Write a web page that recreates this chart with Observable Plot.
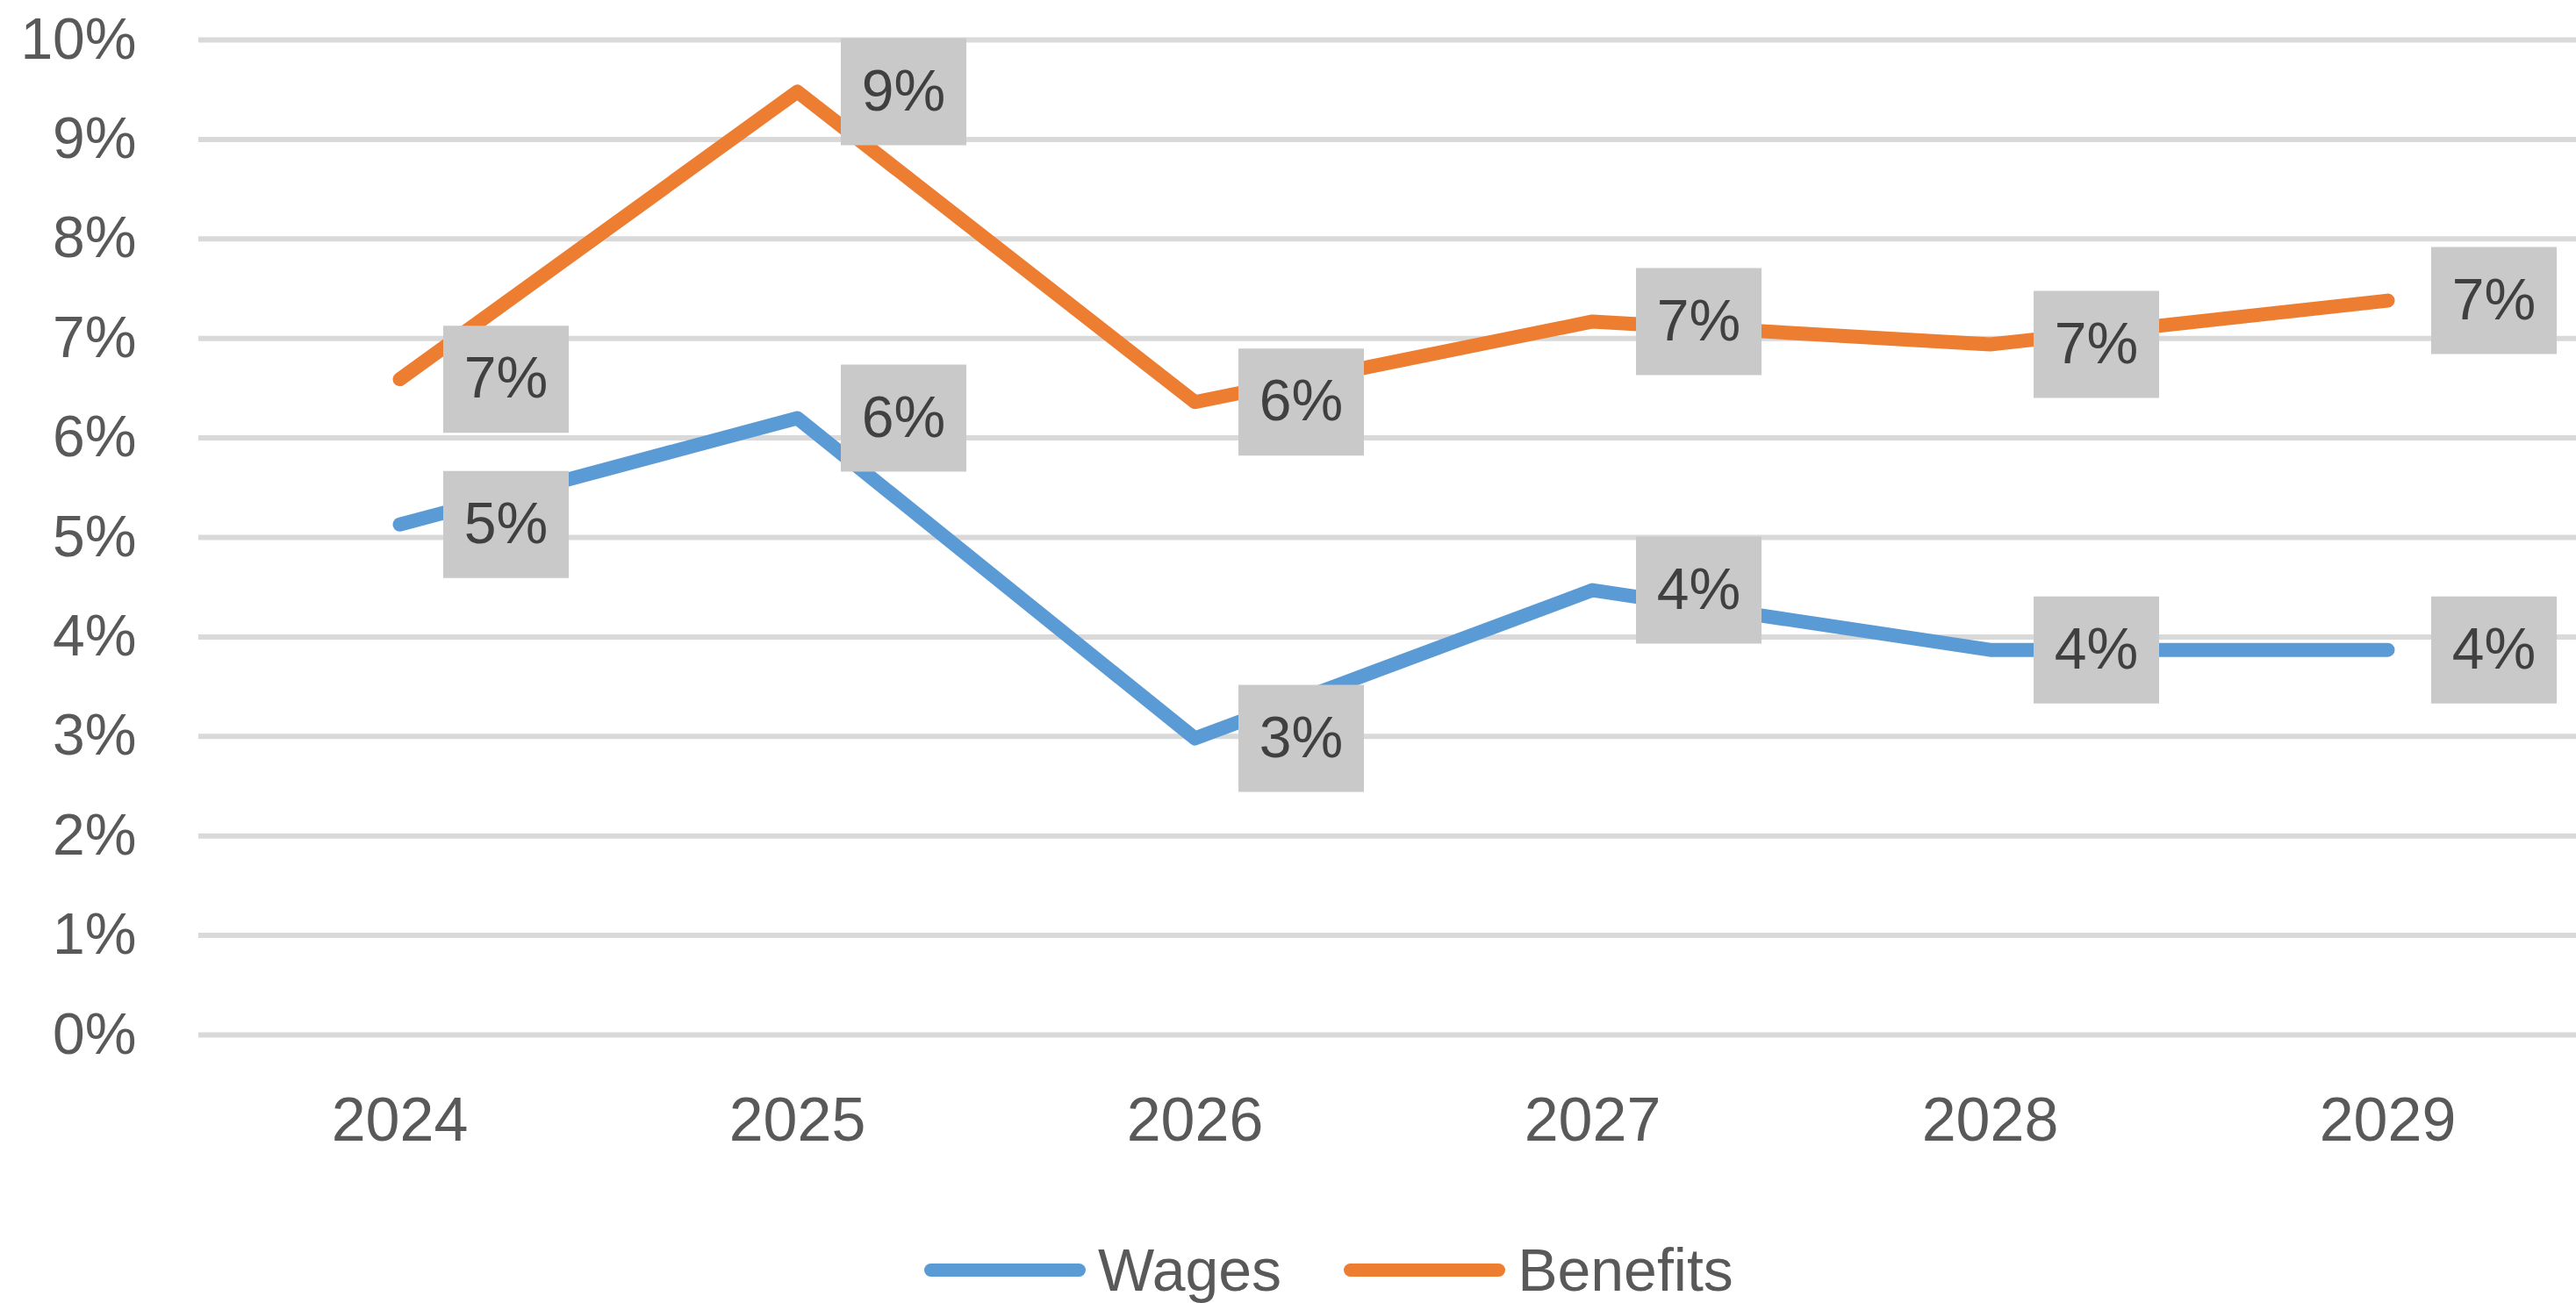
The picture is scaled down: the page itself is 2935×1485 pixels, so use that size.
<!DOCTYPE html>
<html>
<head>
<meta charset="utf-8">
<script src="https://cdn.jsdelivr.net/npm/d3@7"></script>
<script src="https://cdn.jsdelivr.net/npm/@observablehq/plot@0.6"></script>
<style>
  html, body { margin: 0; padding: 0; background: #ffffff; }
  #wrap { position: relative; width: 2935px; height: 1485px; overflow: hidden; background: #fff; }
  #legend { position: absolute; left: 1053px; top: 1407px; height: 80px; display: flex; align-items: center;
            font-family: "Liberation Sans", Arial, sans-serif; font-size: 68px; color: #595959; }
  .item { display: flex; align-items: center; margin-right: 71px; }
  .sw { width: 184px; height: 15px; border-radius: 8px; margin-right: 14px; }
</style>
</head>
<body>
<div id="wrap"><div id="chart"></div><div id="legend"></div></div>
<script>
// ---- data ----
const years = ["2024", "2025", "2026", "2027", "2028", "2029"];
const wages = [0.0513, 0.0620, 0.0298, 0.0447, 0.0387, 0.0387];
const benefits = [0.0659, 0.0948, 0.0636, 0.0717, 0.0694, 0.0738];
const seriesNames = ["Wages", "Benefits"];
const seriesColors = ["#5B9BD5", "#ED7D31"];
const yTicks = [0, 0.01, 0.02, 0.03, 0.04, 0.05, 0.06, 0.07, 0.08, 0.09, 0.10];

const seriesValues = [wages, benefits];
const rows = [];
seriesNames.forEach((name, s) => {
  years.forEach((yr, i) => rows.push({series: name, year: yr, value: seriesValues[s][i]}));
});

const fmt = d3.format(".0%");
const font = "'Liberation Sans', Arial, sans-serif";

// label box: a rectangle symbol
const boxSymbol = { draw(context) { context.rect(-71.5, -61, 143, 122); } };

const W = 2935, H = 1380;
const chart = Plot.plot({
  width: W,
  height: H,
  marginLeft: 226,
  marginRight: 0,
  marginTop: 45,
  marginBottom: H - 1179,
  style: { fontFamily: font, fontSize: "66px", background: "#ffffff", color: "#595959" },
  x: { type: "point", domain: years, range: [453, 2722], padding: 0 },
  y: { domain: [0, 0.10], range: [1179, 45] },
  color: { domain: seriesNames, range: seriesColors },
  marks: [
    Plot.ruleY(yTicks, { stroke: "#d9d9d9", strokeWidth: 6 }),
    Plot.axisY({ ticks: yTicks, tickFormat: ".0%", tickSize: 0, tickPadding: 71, label: null, fill: "#595959", fontSize: 66 }),
    Plot.axisX({ tickSize: 0, tickPadding: 71, label: null, fill: "#595959", fontSize: 70 }),
    Plot.line(rows, { x: "year", y: "value", z: "series", stroke: "series", strokeWidth: 16,
                      strokeLinejoin: "round", strokeLinecap: "round" }),
    Plot.dot(rows, { x: "year", y: "value", symbol: boxSymbol, r: 10, fill: "#c9c9c9", stroke: "none", dx: 121 }),
    Plot.text(rows, { x: "year", y: "value", text: d => fmt(d.value), dx: 121, fill: "#404040", fontSize: 66 })
  ]
});
document.getElementById("chart").appendChild(chart);

// legend
const legend = document.getElementById("legend");
seriesNames.forEach((name, i) => {
  const it = document.createElement("div");
  it.className = "item";
  const sw = document.createElement("div");
  sw.className = "sw";
  sw.style.background = seriesColors[i];
  const tx = document.createElement("span");
  tx.textContent = name;
  it.appendChild(sw); it.appendChild(tx);
  legend.appendChild(it);
});
</script>
</body>
</html>
